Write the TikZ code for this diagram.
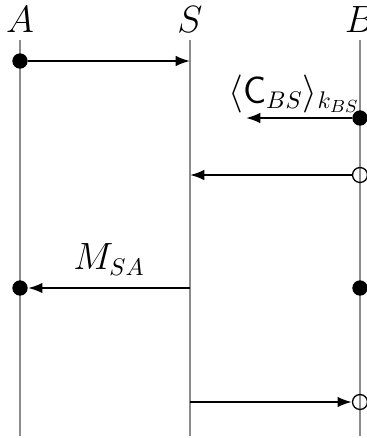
\documentclass[tikz,border=0pt]{standalone}
\usetikzlibrary{arrows.meta}

\begin{document}
\begin{tikzpicture}[x=0.455pt, y=-0.455pt, >={Latex[length=6.5pt,width=4.8pt]},
  every node/.style={font=\fontsize{16}{19}\selectfont},
  life/.style={black!45, line width=0.6pt},
  msg/.style={->, line width=0.9pt},
  evfull/.style={circle, fill=black, inner sep=0pt, minimum size=7pt},
  evopen/.style={circle, draw=black, line width=0.6pt, inner sep=0pt, minimum size=6.8pt}]
\useasboundingbox (0,0) rectangle (367,438);

% principals
\node (A) at (20,20)  {$A$};
\node (S) at (190,20) {$S$};
\node (B) at (360,20) {$B$};

% lifelines
\draw[life] (20,40)  -- (20,436);
\draw[life] (190,40) -- (190,436);
\draw[life] (360,40) -- (360,436);

% events
\node[evfull] (a1) at (20,61) {};
\coordinate (s1) at (190,61);
\node[evfull] (b2) at (360,118) {};
\coordinate (m2) at (246,118);
\node[evopen] (b3) at (360,175) {};
\coordinate (s3) at (190,175);
\coordinate (s4) at (190,288);
\node[evfull] (a4) at (20,288) {};
\node[evfull] (b4) at (360,288) {};
\coordinate (s5) at (190,402);
\node[evopen] (b5) at (360,402) {};

% messages
\draw[msg] (a1) -- (s1);
\draw[msg] (b2) -- (m2);
\node[anchor=south east, inner sep=0pt] at (360,113) {$\langle \mathsf{C}_{BS}\rangle_{k_{BS}}$};
\draw[msg] (b3) -- (s3);
\draw[msg] (s4) -- node[above=2pt] {$M_{SA}$} (a4);
\draw[msg] (s5) -- (b5);

\end{tikzpicture}
\end{document}
